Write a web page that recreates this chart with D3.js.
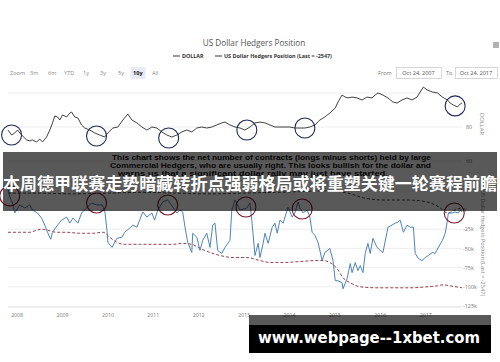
<!DOCTYPE html>
<html>
<head>
<meta charset="utf-8">
<script src="https://cdn.jsdelivr.net/npm/d3@7"></script>
<style>
  body { margin: 0; background: #fff; }
  svg { display: block; }
</style>
</head>
<body>
<svg id="chart" width="500" height="362"></svg>
<script>
// ---- data (dates as decimal years) ----
const dollarDates = [
  2007.81, 2007.89, 2007.96, 2008.02, 2008.11, 2008.22, 2008.29, 2008.35, 2008.44, 2008.51,
  2008.57, 2008.66, 2008.73, 2008.79, 2008.84, 2008.90, 2008.95, 2009.01, 2009.10, 2009.17,
  2009.21, 2009.28, 2009.35, 2009.43, 2009.50, 2009.61, 2009.72, 2009.83, 2009.94, 2010.01,
  2010.12, 2010.23, 2010.34, 2010.45, 2010.54, 2010.65, 2010.76, 2010.87, 2010.98, 2011.09,
  2011.20, 2011.31, 2011.42, 2011.53, 2011.64, 2011.75, 2011.86, 2011.97, 2012.08, 2012.19,
  2012.30, 2012.41, 2012.52, 2012.59, 2012.70, 2012.81, 2012.92, 2013.03, 2013.14, 2013.25,
  2013.36, 2013.47, 2013.58, 2013.69, 2013.80, 2013.91, 2014.02, 2014.13, 2014.24, 2014.35,
  2014.46, 2014.57, 2014.68, 2014.79, 2014.90, 2015.02, 2015.08, 2015.17, 2015.24, 2015.30,
  2015.39, 2015.50, 2015.61, 2015.72, 2015.83, 2015.90, 2015.96, 2016.07, 2016.18, 2016.29,
  2016.38, 2016.49, 2016.60, 2016.71, 2016.82, 2016.89, 2016.96, 2017.04, 2017.16, 2017.27,
  2017.38, 2017.49, 2017.55, 2017.62, 2017.71, 2017.77, 2017.81
];
const dollarValues = [
  78.2, 75.3, 76.5, 78.2, 75.3, 72.4, 71.8, 72.4, 71.2, 72.9,
  71.2, 74.1, 78.2, 82.4, 86.5, 85.9, 84.1, 87.1, 85.9, 88.2,
  88.8, 85.9, 85.3, 81.2, 79.4, 78.2, 76.5, 75.3, 74.1, 76.5,
  79.4, 80.0, 84.1, 87.6, 84.1, 82.4, 80.0, 78.2, 80.0, 79.4,
  77.1, 75.3, 74.1, 75.3, 77.1, 78.2, 77.1, 79.4, 80.0, 79.4,
  80.0, 81.2, 82.4, 82.9, 81.2, 80.0, 79.4, 78.2, 80.0, 82.4,
  82.9, 82.4, 81.2, 80.0, 80.0, 80.0, 80.0, 79.4, 79.4, 79.4,
  80.0, 81.2, 84.1, 85.9, 88.2, 91.2, 94.7, 98.8, 97.6, 97.1,
  97.6, 97.1, 95.9, 97.6, 97.1, 98.8, 100.0, 98.8, 97.1, 94.7,
  94.1, 95.9, 97.1, 95.9, 97.6, 100.6, 103.5, 101.8, 100.6, 100.0,
  97.6, 95.9, 94.1, 92.9, 91.8, 93.5, 94.1
];

// net commercial position, thousands of contracts
const hedgerDates = [
  2007.81, 2007.85, 2007.91, 2007.96, 2008.07, 2008.18, 2008.29, 2008.35, 2008.46, 2008.55,
  2008.62, 2008.68, 2008.75, 2008.79, 2008.90, 2008.99, 2009.10, 2009.17, 2009.24, 2009.35,
  2009.43, 2009.54, 2009.65, 2009.76, 2009.88, 2009.94, 2009.99, 2010.01, 2010.10, 2010.21,
  2010.32, 2010.38, 2010.49, 2010.56, 2010.65, 2010.71, 2010.78, 2010.87, 2010.98, 2011.04,
  2011.11, 2011.22, 2011.33, 2011.44, 2011.53, 2011.60, 2011.66, 2011.71, 2011.77, 2011.86,
  2011.88, 2011.97, 2012.04, 2012.10, 2012.19, 2012.26, 2012.32, 2012.37, 2012.43, 2012.52,
  2012.59, 2012.70, 2012.74, 2012.81, 2012.92, 2013.07, 2013.14, 2013.18, 2013.25, 2013.32,
  2013.36, 2013.43, 2013.47, 2013.54, 2013.63, 2013.69, 2013.74, 2013.80, 2013.87, 2013.96,
  2013.98, 2014.07, 2014.13, 2014.20, 2014.24, 2014.31, 2014.40, 2014.46, 2014.51, 2014.57,
  2014.64, 2014.73, 2014.79, 2014.90, 2014.97, 2015.02, 2015.08, 2015.17, 2015.19, 2015.28,
  2015.35, 2015.39, 2015.46, 2015.52, 2015.57, 2015.63, 2015.68, 2015.74, 2015.79, 2015.85,
  2015.94, 2016.01, 2016.07, 2016.16, 2016.18, 2016.27, 2016.34, 2016.40, 2016.45, 2016.52,
  2016.60, 2016.67, 2016.74, 2016.78, 2016.85, 2016.93, 2017.00, 2017.07, 2017.16, 2017.22,
  2017.29, 2017.38, 2017.44, 2017.49, 2017.51, 2017.60, 2017.66, 2017.73, 2017.77, 2017.81
];
const hedgerValues = [
  26.3, 17.1, 9.2, -3.9, 6.6, 2.6, 6.6, 0, -3.9, -10.5,
  -19.7, -29.0, -38.2, -29.0, -19.7, -13.2, -9.2, -17.1, -10.5, -17.1,
  -3.9, 2.6, 9.2, 6.6, 6.6, 0, -26.3, -42.1, -48.7, -36.8,
  -35.5, -29.0, -23.7, -19.7, -22.4, -13.2, -2.6, -9.2, -3.9, -13.2,
  0, 10.5, 13.2, 3.9, -3.9, 0, -2.6, -22.4, -42.1, -55.3,
  -30.3, -35.5, -52.6, -39.5, -30.3, -48.7, -19.7, -17.1, -52.6, -56.6,
  -48.7, -39.5, 0, 13.2, 0, 2.6, 9.2, -13.2, -59.2, -43.4,
  -61.9, -43.4, -30.3, -43.4, -22.4, -17.1, -30.3, -13.2, -17.1, 0,
  3.9, -9.2, -3.9, 10.5, 2.6, -3.9, 0, -9.2, -29.0, -32.9,
  -42.1, -65.8, -55.3, -50.0, -65.8, -92.1, -92.1, -94.8, -102.6, -89.5,
  -69.7, -81.6, -68.4, -79.0, -72.4, -81.6, -56.6, -43.4, -56.6, -36.8,
  -48.7, -52.6, -55.3, -29.0, -22.4, -19.7, -17.1, -15.8, -13.2, -29.0,
  -19.7, -22.4, -22.4, -56.6, -63.2, -65.8, -61.9, -59.2, -55.3, -56.6,
  -48.7, -39.5, -30.3, -13.2, -3.9, -3.9, -2.6, -3.9, 0, -2.547
];

// long-run average of the net position (red dashed)
const slowAvgDates = [
  2007.81, 2008.07, 2008.29, 2008.44, 2008.55, 2008.68, 2008.88, 2009.10, 2009.39, 2009.68,
  2009.90, 2010.05, 2010.21, 2010.38, 2010.71, 2011.09, 2011.44, 2011.66, 2011.86, 2012.04,
  2012.26, 2012.48, 2012.77, 2013.07, 2013.36, 2013.58, 2013.87, 2014.24, 2014.62, 2014.75,
  2014.90, 2015.06, 2015.19, 2015.35, 2015.57, 2015.94, 2016.29, 2016.67, 2017.04, 2017.27,
  2017.40, 2017.55, 2017.81
];
const slowAvgValues = [
  -29.0, -29.0, -29.0, -26.3, -25.0, -26.3, -29.0, -29.0, -30.3, -30.3,
  -29.0, -35.5, -42.1, -44.7, -44.7, -44.7, -44.7, -43.4, -44.7, -50.0,
  -55.3, -59.2, -61.9, -61.9, -65.8, -68.4, -68.4, -67.1, -65.8, -65.8,
  -68.4, -76.3, -88.2, -94.8, -100.0, -101.3, -101.3, -101.3, -100.0, -98.7,
  -97.4, -98.7, -101.3
];

// short-run average of the net position (dark dashed)
const fastAvgDates = [
  2007.81, 2008.50, 2009.20, 2010.00, 2010.80, 2011.50, 2012.30, 2013.00, 2013.70, 2014.30,
  2014.90, 2015.30, 2015.70, 2016.10, 2016.60, 2017.00, 2017.30, 2017.50, 2017.65, 2017.81
];
const fastAvgValues = [
  22, 22, 21, 22, 23, 22, 21, 22, 23, 24,
  25, 22, 15, 13, 13, 11, 4, -4, 0, 3
];

// highlighted turning points
const dollarMarkDates = [2007.89, 2009.76, 2011.35, 2013.07, 2014.35, 2017.66];
const dollarMarkValues = [75.3, 74.7, 73.5, 78.2, 79.4, 92.4];
const hedgerMarkDates = [2007.85, 2009.76, 2011.33, 2013.05, 2014.29, 2017.64];
const hedgerMarkValues = [18.4, 9.2, 6.6, 3.9, 1.3, -3.9];

const dollarTicks = [60, 80, 100];
const dollarTickLabels = [60, 80];
const hedgerTicks = [-125, -100, -75, -50, -25, 0, 25];
const hedgerTickLabels = [-125, -100, -75, -50, -25, 0];
const rangeButtons = ["Zoom", "3m", "6m", "YTD", "1y", "3y", "5y", "10y", "All"];
const noteLines = [
  "This chart shows the net number of contracts (longs minus shorts) held by large",
  "Commercial Hedgers, who are usually right. This looks bullish for the dollar and",
  "warns us that a significant dollar rally may just have started."
];
const headline = "本周德甲联赛走势暗藏转折点强弱格局或将重塑关键一轮赛程前瞻";
const siteLabel = "www.webpage--1xbet.com";

// ---- helpers ----
const toDate = t => {
  const yr = Math.floor(t);
  const a = new Date(yr, 0, 1), b = new Date(yr + 1, 0, 1);
  return new Date(+a + (t - yr) * (b - a));
};
const zip = (ds, vs) => ds.map((d, i) => ({ date: toDate(d), value: vs[i] }));

const svg = d3.select("#chart");
const FONT = "'Open Sans', 'DejaVu Sans', sans-serif";

const x = d3.scaleTime()
  .domain([new Date(2007, 9, 24), new Date(2017, 9, 24)])
  .range([8, 462]);
const yTop = d3.scaleLinear().domain([60, 100]).range([161, 93]);
const yBot = d3.scaleLinear().domain([-125, 0]).range([306, 210]);

// ---- header ----
svg.append("text").attr("x", 254).attr("y", 46).attr("text-anchor", "middle")
  .attr("font-family", FONT).attr("font-size", 8.2).attr("fill", "#555")
  .text("US Dollar Hedgers Position");

const legend = svg.append("g").attr("font-family", FONT).attr("font-size", 5.4)
  .attr("font-weight", "bold").attr("fill", "#333");
[[173, "DOLLAR"], [215, "US Dollar Hedgers Position (Last = -2547)"]].forEach(([lx, label]) => {
  legend.append("line").attr("x1", lx).attr("x2", lx + 7).attr("y1", 56).attr("y2", 56)
    .attr("stroke", "#333").attr("stroke-width", 1);
  legend.append("text").attr("x", lx + 9).attr("y", 58).text(label);
});

// hamburger menu
[43, 45, 47].forEach(yy => svg.append("line").attr("x1", 493).attr("x2", 499)
  .attr("y1", yy).attr("y2", yy).attr("stroke", "#666").attr("stroke-width", 1));

// range selector
const btnX = [10, 30, 48, 64, 83, 100, 118, 133, 152];
const btns = svg.append("g").attr("font-family", FONT).attr("font-size", 5.6);
btns.append("rect").attr("x", 130.5).attr("y", 67).attr("width", 15).attr("height", 12)
  .attr("fill", "#e6ebf5");
rangeButtons.forEach((b, i) => {
  btns.append("text").attr("x", btnX[i]).attr("y", 75)
    .attr("fill", b === "10y" ? "#222" : "#8a8a8a")
    .attr("font-weight", b === "10y" ? "bold" : "normal").text(b);
});

const inputs = svg.append("g").attr("font-family", FONT).attr("font-size", 5.6).attr("fill", "#777");
inputs.append("text").attr("x", 378).attr("y", 75).text("From");
inputs.append("text").attr("x", 446).attr("y", 75).text("To");
[[396, 45, "Oct 24, 2007"], [455, 42, "Oct 24, 2017"]].forEach(([bx, bw, label]) => {
  inputs.append("rect").attr("x", bx + 0.5).attr("y", 67.5).attr("width", bw).attr("height", 11)
    .attr("fill", "#fff").attr("stroke", "#ccc").attr("stroke-width", 0.8);
  inputs.append("text").attr("x", bx + bw / 2).attr("y", 75).attr("text-anchor", "middle")
    .attr("fill", "#555").text(label);
});

// ---- grid ----
const grid = svg.append("g").attr("stroke", "#e8e8e8").attr("stroke-width", 0.8);
grid.selectAll("line.t").data(dollarTicks).join("line").attr("class", "t")
  .attr("x1", 8).attr("x2", 462).attr("y1", d => yTop(d)).attr("y2", d => yTop(d));
grid.selectAll("line.b").data(hedgerTicks.filter(d => d !== -125)).join("line").attr("class", "b")
  .attr("x1", 8).attr("x2", 462).attr("y1", d => yBot(d)).attr("y2", d => yBot(d));
svg.append("line").attr("x1", 8).attr("x2", 462).attr("y1", 307).attr("y2", 307)
  .attr("stroke", "#d4d4d4").attr("stroke-width", 0.8);

// ---- axes ----
const xAxis = svg.append("g").attr("transform", "translate(0,307)")
  .call(d3.axisBottom(x).ticks(d3.timeYear.every(1)).tickFormat(d3.timeFormat("%Y"))
    .tickSize(0).tickPadding(6));
xAxis.select(".domain").remove();
xAxis.selectAll("text").attr("font-family", FONT).attr("font-size", 5.2).attr("fill", "#777");

const rTop = svg.append("g").attr("transform", "translate(466,0)")
  .call(d3.axisRight(yTop).tickValues(dollarTickLabels).tickSize(0).tickPadding(0));
rTop.select(".domain").remove();
rTop.selectAll("text").attr("font-family", FONT).attr("font-size", 5.4).attr("fill", "#777");

const rBot = svg.append("g").attr("transform", "translate(463,0)")
  .call(d3.axisRight(yBot).tickValues(hedgerTickLabels).tickSize(0).tickPadding(0)
    .tickFormat(d => d === 0 ? "0" : d + "k"));
rBot.select(".domain").remove();
rBot.selectAll("text").attr("font-family", FONT).attr("font-size", 5.4).attr("fill", "#777");

svg.append("text").attr("transform", "translate(480,124) rotate(90)").attr("text-anchor", "middle")
  .attr("font-family", FONT).attr("font-size", 5.8).attr("fill", "#888").text("DOLLAR");
svg.append("text").attr("transform", "translate(481,243) rotate(90)").attr("text-anchor", "middle")
  .attr("font-family", FONT).attr("font-size", 5.6).attr("fill", "#888")
  .text("US Dollar Hedgers Position (Last = -2547)");

// ---- series ----
const lineTop = d3.line().x(d => x(d.date)).y(d => yTop(d.value));
const lineBot = d3.line().x(d => x(d.date)).y(d => yBot(d.value));
const smoothBot = d3.line().x(d => x(d.date)).y(d => yBot(d.value)).curve(d3.curveMonotoneX);

svg.append("path").datum(zip(fastAvgDates, fastAvgValues)).attr("d", smoothBot)
  .attr("fill", "none").attr("stroke", "#2f3a30").attr("stroke-width", 0.9)
  .attr("stroke-dasharray", "3,2");
svg.append("path").datum(zip(slowAvgDates, slowAvgValues)).attr("d", smoothBot)
  .attr("fill", "none").attr("stroke", "#8e2a3a").attr("stroke-width", 0.9)
  .attr("stroke-dasharray", "3,2");
svg.append("path").datum(zip(hedgerDates, hedgerValues)).attr("d", lineBot)
  .attr("fill", "none").attr("stroke", "#4f84b8").attr("stroke-width", 1);
svg.append("path").datum(zip(dollarDates, dollarValues)).attr("d", lineTop)
  .attr("fill", "none").attr("stroke", "#2b2b2b").attr("stroke-width", 0.9);

// ---- turning-point rings ----
svg.selectAll("circle.top").data(zip(dollarMarkDates, dollarMarkValues)).join("circle")
  .attr("class", "top").attr("cx", d => x(d.date)).attr("cy", d => yTop(d.value)).attr("r", 10)
  .attr("fill", "none").attr("stroke", "#1e2a55").attr("stroke-width", 1.1);
svg.selectAll("circle.bot").data(zip(hedgerMarkDates, hedgerMarkValues)).join("circle")
  .attr("class", "bot").attr("cx", d => x(d.date)).attr("cy", d => yBot(d.value)).attr("r", 10)
  .attr("fill", "none").attr("stroke", "#7a1a2a").attr("stroke-width", 1.1);

// ---- note ----
const noteX = [112, 110, 118], noteW = [319, 321, 270], noteY = [160, 168, 176];
noteLines.forEach((t, i) => {
  svg.append("text").attr("x", noteX[i]).attr("y", noteY[i])
    .attr("textLength", noteW[i]).attr("lengthAdjust", "spacingAndGlyphs")
    .attr("font-family", "'Liberation Sans', Arial, sans-serif").attr("font-weight", "bold")
    .attr("font-size", 7.6).attr("fill", "#111").text(t);
});

// ---- headline banner ----
svg.append("rect").attr("x", 3).attr("y", 152).attr("width", 494).attr("height", 59)
  .attr("fill", "#000").attr("fill-opacity", 0.65);
svg.append("text").attr("x", 250).attr("y", 190).attr("text-anchor", "middle")
  .attr("textLength", 494).attr("lengthAdjust", "spacingAndGlyphs")
  .attr("font-family", "'Noto Sans CJK SC', sans-serif").attr("font-weight", "bold")
  .attr("font-size", 17).attr("fill", "#fff").text(headline);

// ---- site label ----
svg.append("rect").attr("x", 249).attr("y", 315).attr("width", 242).attr("height", 10)
  .attr("fill", "#000").attr("fill-opacity", 0.65);
svg.append("rect").attr("x", 249).attr("y", 325).attr("width", 242).attr("height", 28)
  .attr("fill", "#000");
svg.append("text").attr("x", 369).attr("y", 343).attr("text-anchor", "middle")
  .attr("textLength", 222).attr("lengthAdjust", "spacingAndGlyphs")
  .attr("font-family", "'DejaVu Sans Condensed', 'DejaVu Sans', sans-serif").attr("font-weight", "bold")
  .attr("font-size", 16).attr("fill", "#fff").text(siteLabel);
</script>
</body>
</html>
